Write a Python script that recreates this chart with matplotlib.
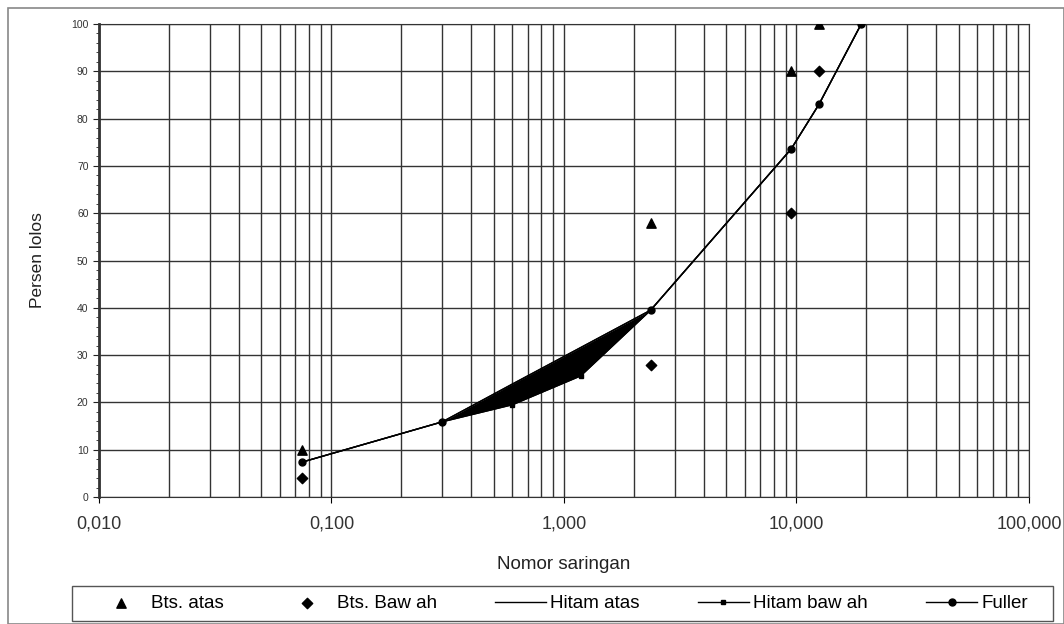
import matplotlib.pyplot as plt
from matplotlib.ticker import FixedLocator, MultipleLocator, NullFormatter
from matplotlib.patches import Rectangle

plt.rcParams['font.family'] = ['Liberation Sans', 'DejaVu Sans']

# sieve sizes (mm) and passing percentages
saringan = [0.075, 0.3, 0.6, 1.18, 2.36, 9.5, 12.5, 19.0]
hitam_atas = [7.4, 15.9, 23.9, 31.6, 39.5, 73.6, 83.0, 100.0]
hitam_bawah = [7.4, 15.9, 19.5, 25.6, 39.5, 73.6, 83.0, 100.0]
fuller_x = [0.075, 0.3, 2.36, 9.5, 12.5, 19.0]
fuller_y = [7.4, 15.9, 39.5, 73.6, 83.0, 100.0]

bts_x = [0.075, 2.36, 9.5, 12.5]
bts_atas = [10, 58, 90, 100]
bts_bawah = [4, 28, 60, 90]

xticks = [0.01, 0.1, 1, 10, 100]
xticklabels = ['0,010', '0,100', '1,000', '10,000', '100,000']

fig = plt.figure(figsize=(10.64, 6.24), dpi=100)
# outer chart border and legend box
fig.patches.append(Rectangle((8 / 1064, 0), 1 - 8 / 1064, 1 - 8 / 624, transform=fig.transFigure,
                             fill=False, edgecolor='#888888', lw=1.2))
fig.patches.append(Rectangle((72 / 1064, 3 / 624), 981 / 1064, 35 / 624, transform=fig.transFigure,
                             fill=False, edgecolor='#555555', lw=1.0))
ax = fig.add_axes([0.093, 0.2035, 0.874, 0.758])

ax.set_xscale('log')
ax.set_xlim(0.01, 100)
ax.set_ylim(0, 100)

minor = [m * 10.0 ** e for e in range(-2, 2) for m in range(2, 10)]
ax.xaxis.set_major_locator(FixedLocator(xticks))
ax.xaxis.set_minor_locator(FixedLocator(minor))
ax.xaxis.set_minor_formatter(NullFormatter())
ax.set_xticklabels(xticklabels, fontsize=13, color='#333333')
ax.yaxis.set_major_locator(MultipleLocator(10))
ax.yaxis.set_minor_locator(MultipleLocator(2))
ax.tick_params(axis='y', which='major', labelsize=7.5, labelcolor='#333333', length=4, color='#222222')
ax.tick_params(axis='y', which='minor', length=2, color='#222222')
ax.tick_params(axis='x', which='major', length=4, pad=9)
ax.tick_params(axis='x', which='minor', length=0)

ax.grid(True, which='major', color='#333333', lw=1.0)
ax.grid(True, which='minor', axis='x', color='#333333', lw=1.0)
for s in ax.spines.values():
    s.set_color('#333333')
ax.spines['left'].set_linewidth(2)

ax.fill_between(saringan, hitam_bawah, hitam_atas, color='black', lw=0, zorder=3)
l1, = ax.plot(saringan, hitam_atas, color='black', lw=1, zorder=4)
l2, = ax.plot(saringan, hitam_bawah, color='black', lw=1, marker='s', ms=3, zorder=4)
l3, = ax.plot(fuller_x, fuller_y, color='black', lw=1, marker='o', ms=5, zorder=5)
s1 = ax.scatter(bts_x, bts_atas, marker='^', s=45, color='black', zorder=6)
s2 = ax.scatter(bts_x, bts_bawah, marker='D', s=28, color='black', zorder=6)

ax.set_xlabel('Nomor saringan', fontsize=13.5, color='#222222', labelpad=17)
ax.set_ylabel('Persen lolos', fontsize=12.5, color='#222222', labelpad=19)

fig.legend([s1, s2, l1, l2, l3], ['Bts. atas', 'Bts. Baw ah', 'Hitam atas', 'Hitam baw ah', 'Fuller'],
           loc='center', bbox_to_anchor=(0.528, 20.5 / 624), ncol=5,
           fontsize=13.5, frameon=False, handlelength=2.7, handletextpad=0.25,
           columnspacing=3.1, scatterpoints=1)

fig.savefig('out.png', dpi=100)
